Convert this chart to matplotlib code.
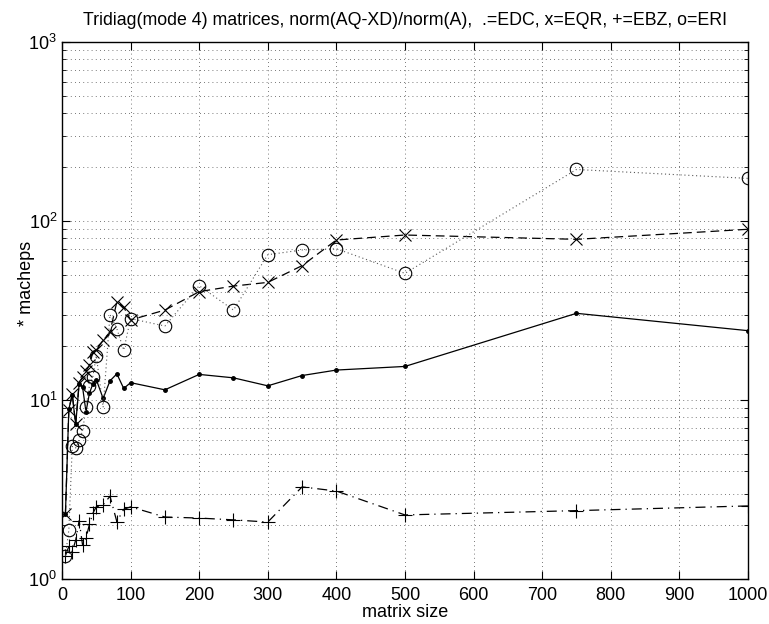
import numpy as np
import matplotlib
matplotlib.use("Agg")
import matplotlib.pyplot as plt
from matplotlib.ticker import LogLocator, NullFormatter, MultipleLocator

plt.rcParams["font.family"] = ["Liberation Sans", "DejaVu Sans"]
plt.rcParams["mathtext.fontset"] = "custom"
plt.rcParams["mathtext.rm"] = "Liberation Sans"

# matrix sizes
n = [5, 10, 15, 20, 25, 30, 35, 40, 45, 50, 60, 70, 80, 90, 100,
     150, 200, 250, 300, 350, 400, 500, 750, 1000]

# norm(AQ-XD)/norm(A) in units of macheps
edc = [2.3, 8.9, 10.7, 7.3, 12.3, 11.8, 8.6, 10.9, 12.3, 13.0, 10.2, 12.8, 14.0, 11.6, 12.5,
       11.4, 13.9, 13.3, 12.0, 13.7, 14.7, 15.4, 30.5, 24.4]
eqr = [2.3, 8.8, 10.8, 7.3, 12.5, 13.5, 14.5, 15.6, 18.5, 19.0, 21.6, 24.0, 35.4, 33.0, 28.0,
       31.8, 40.3, 43.3, 45.4, 56.3, 78.3, 83.5, 79.0, 89.9]
ebz = [1.35, 1.52, 1.42, 1.65, 2.12, 1.55, 1.69, 2.02, 2.33, 2.53, 2.6, 2.9, 2.09, 2.45, 2.53,
       2.22, 2.19, 2.14, 2.08, 3.27, 3.1, 2.28, 2.41, 2.56]
eri = [1.35, 1.88, 5.5, 5.4, 6.0, 6.7, 9.1, 12.0, 13.5, 17.7, 9.1, 30.0, 25.0, 19.0, 28.5,
       25.9, 43.5, 31.8, 64.8, 68.9, 70.0, 51.0, 194.0, 173.0]

fig = plt.figure(figsize=(7.69, 6.24), dpi=100)
ax = fig.add_axes([0.0806, 0.0721, 0.892, 0.8606])

ax.semilogy(n, edc, "k-", marker=".", markersize=5, linewidth=0.9)
ax.semilogy(n, eqr, "k", linestyle=(0, (7, 4)), marker="x", markersize=9,
            markeredgewidth=0.8, linewidth=0.9)
ax.semilogy(n, ebz, "k", linestyle=(0, (8, 4, 1, 4)), marker="+", markersize=10,
            markeredgewidth=0.8, linewidth=0.9)
ax.semilogy(n, eri, color="0.35", linestyle=(0, (1, 2.5)), marker="o", markersize=9,
            markerfacecolor="none", markeredgecolor="k", markeredgewidth=0.8, linewidth=0.8)

ax.set_xlim(0, 1000)
ax.set_ylim(1, 1000)
ax.xaxis.set_major_locator(MultipleLocator(100))
ax.yaxis.set_major_locator(LogLocator(base=10, numticks=10))
ax.yaxis.set_minor_locator(LogLocator(base=10, subs=np.arange(2, 10), numticks=20))
ax.yaxis.set_minor_formatter(NullFormatter())

ax.grid(True, which="major", axis="both", linestyle=(0, (1, 4)), color="k", linewidth=0.6, alpha=0.7)
ax.grid(True, which="minor", axis="y", linestyle=(0, (1, 4)), color="k", linewidth=0.6, alpha=0.7)

ax.tick_params(which="both", direction="in", top=True, right=True, labelsize=13)
ax.tick_params(axis="x", pad=6)
ax.tick_params(which="major", length=6, width=0.8)
ax.tick_params(which="minor", length=3, width=0.6)
for s in ax.spines.values():
    s.set_linewidth(1.0)

ax.set_title("Tridiag(mode 4) matrices, norm(AQ-XD)/norm(A),  .=EDC, x=EQR, +=EBZ, o=ERI",
             fontsize=12.8, pad=12)
ax.set_xlabel("matrix size", fontsize=13, labelpad=0)
ax.set_ylabel("* macheps", fontsize=13)
ax.yaxis.set_label_coords(-0.04, 0.55)

fig.savefig("out.png", dpi=100)
